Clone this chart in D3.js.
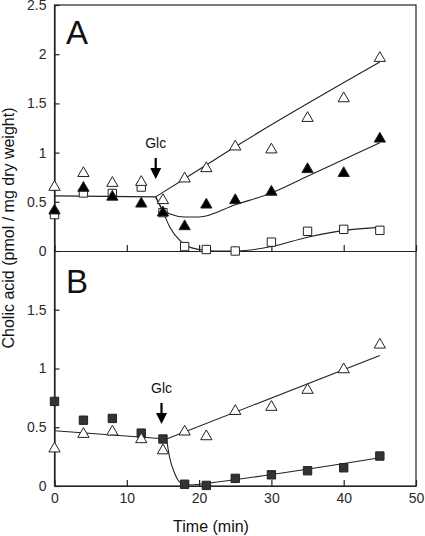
<!DOCTYPE html>
<html><head><meta charset="utf-8">
<script src="https://cdn.jsdelivr.net/npm/d3@7"></script>
<style>body{margin:0;background:#fff}svg{display:block}text{font-family:"Liberation Sans",Arial,sans-serif}</style>
</head><body>
<script>
// ---- data ----
const times = [0, 4, 8, 12, 15, 18, 21, 25, 30, 35, 40, 45];
// Panel A
const aOpenTri   = [0.66, 0.80, 0.70, 0.71, 0.525, 0.745, 0.85, 1.07, 1.04, 1.36, 1.56, 1.97];
const aFilledTri = [0.42, 0.65, 0.56, 0.49, 0.40, 0.26, 0.48, 0.525, 0.61, 0.84, 0.80, 1.15];
const aOpenSq    = [0.37, 0.59, 0.585, 0.65, 0.39, 0.045, 0.015, 0.0, 0.09, 0.20, 0.22, 0.21];
// Panel A fitted curves [time, value]
const aFitPre    = [[0, 0.56], [14, 0.55]];
const aFitOpenTri   = [[14, 0.55], [18, 0.735], [25, 1.06], [45, 1.92]];
const aFitFilledTri = [[14, 0.55], [14.8, 0.44], [16, 0.375], [18, 0.345], [20, 0.345], [25, 0.47], [30, 0.59], [35, 0.76], [40, 0.93], [45, 1.10]];
const aFitOpenSq    = [[14, 0.55], [15, 0.40], [15.9, 0.25], [17.5, 0.095], [18.5, 0.045], [20, 0.015], [22, 0.0], [25, 0.0], [27, 0.01], [30, 0.045], [35, 0.14], [40, 0.21], [45, 0.24]];
// Panel B
const bOpenTri   = [0.326, 0.45, 0.47, 0.405, 0.31, 0.47, 0.43, 0.645, 0.68, 0.825, 1.00, 1.21];
const bFilledSq  = [0.72, 0.56, 0.575, 0.45, 0.40, 0.015, 0.005, 0.065, 0.095, 0.13, 0.155, 0.255];
const bFitPre    = [[0, 0.47], [15.5, 0.40]];
const bFitOpenTri  = [[15.5, 0.40], [45, 1.11]];
const bFitFilledSq = [[15.5, 0.40], [15.9, 0.25], [16.6, 0.11], [17.5, 0.025], [19, 0.008], [20, 0.015], [45, 0.24]];
// ticks
const xTicks  = [0, 10, 20, 30, 40, 50];
const aYTicks = [0, 0.5, 1, 1.5, 2, 2.5];
const bYTicks = [0, 0.5, 1, 1.5];
const glcA = {t: 14, label: "Glc"};
const glcB = {t: 14.8, label: "Glc"};

// ---- layout ----
const W = 425, H = 536;
const svg = d3.select("body").append("svg").attr("width", W).attr("height", H);
const left = 54.5, right = 416, topA = 5, mid = 251, botB = 486;
const x  = d3.scaleLinear().domain([0, 50]).range([left, right]);
const yA = d3.scaleLinear().domain([0, 2.5]).range([mid, topA]);
const yB = d3.scaleLinear().domain([0, 2]).range([botB, mid]);
const ink = "#222";

// frame
svg.append("rect").attr("x", left).attr("y", topA).attr("width", right - left).attr("height", botB - topA)
  .attr("fill", "none").attr("stroke", ink).attr("stroke-width", 1.2);

function styleAxis(g) {
  g.selectAll("path.domain").attr("stroke", ink).attr("stroke-width", 1.2);
  g.selectAll(".tick line").attr("stroke", ink).attr("stroke-width", 1.2);
  g.selectAll(".tick text").attr("font-size", 14).attr("fill", "#2a2a2a")
    .attr("font-family", '"Liberation Sans",Arial,sans-serif');
}

// y axes
svg.append("g").attr("transform", `translate(${left},0)`)
  .call(d3.axisLeft(yA).tickValues(aYTicks).tickFormat(d3.format("")).tickSizeInner(-5).tickSizeOuter(0).tickPadding(8))
  .call(styleAxis);
svg.append("g").attr("transform", `translate(${left},0)`)
  .call(d3.axisLeft(yB).tickValues(bYTicks).tickFormat(d3.format("")).tickSizeInner(-5).tickSizeOuter(0).tickPadding(8))
  .call(styleAxis);
// x axes
svg.append("g").attr("transform", `translate(0,${mid})`)
  .call(d3.axisBottom(x).tickValues(xTicks).tickFormat("").tickSizeInner(-6).tickSizeOuter(0))
  .call(styleAxis);
svg.append("g").attr("transform", `translate(0,${botB})`)
  .call(d3.axisBottom(x).tickValues(xTicks).tickSizeInner(-6).tickSizeOuter(0).tickPadding(7))
  .call(styleAxis);

// fitted curves
function fit(data, y) {
  svg.append("path").datum(data)
    .attr("d", d3.line().x(d => x(d[0])).y(d => y(d[1])).curve(d3.curveMonotoneX))
    .attr("fill", "none").attr("stroke", ink).attr("stroke-width", 1.1);
}
[aFitPre, aFitOpenTri, aFitFilledTri, aFitOpenSq].forEach(d => fit(d, yA));
[bFitPre, bFitOpenTri, bFitFilledSq].forEach(d => fit(d, yB));

// markers
const triSym = d3.symbol().type(d3.symbolTriangle).size(55);
const sqSym  = d3.symbol().type(d3.symbolSquare).size(70);
function pts(vals, y, sym, fill, dy) {
  svg.append("g").selectAll("path").data(times.map((t, i) => [t, vals[i]])).join("path")
    .attr("d", sym)
    .attr("transform", d => `translate(${x(d[0])},${y(d[1]) + (dy || 0)})`)
    .attr("fill", fill).attr("stroke", ink).attr("stroke-width", 1);
}
pts(aOpenSq, yA, sqSym, "#fff");
pts(aFilledTri, yA, triSym, "#000", 1);
pts(aOpenTri, yA, triSym, "#fff", 1);
pts(bFilledSq, yB, sqSym, "#333");
pts(bOpenTri, yB, triSym, "#fff", 1);

// panel letters
svg.append("text").attr("x", 66).attr("y", 44).attr("font-size", 33).attr("fill", "#111").text("A");
svg.append("text").attr("x", 66).attr("y", 293).attr("font-size", 33).attr("fill", "#111").text("B");

// Glc arrows
function glc(g, textY, arrowTop) {
  const cx = x(g.t);
  svg.append("text").attr("x", cx).attr("y", textY).attr("text-anchor", "middle").attr("font-size", 14).attr("fill", "#111").text(g.label);
  svg.append("line").attr("x1", cx).attr("x2", cx).attr("y1", arrowTop).attr("y2", arrowTop + 11)
    .attr("stroke", "#000").attr("stroke-width", 2.2);
  svg.append("path").attr("d", `M${cx - 5.5},${arrowTop + 10}L${cx + 5.5},${arrowTop + 10}L${cx},${arrowTop + 21}Z`).attr("fill", "#000");
}
glc(glcA, 148, 158);
glc(glcB, 393, 403);

// axis titles
svg.append("text").attr("transform", `translate(14,228) rotate(-90)`).attr("text-anchor", "middle")
  .attr("font-size", 16).attr("fill", "#111").text("Cholic acid (pmol / mg dry weight)");
svg.append("text").attr("x", 211).attr("y", 532).attr("text-anchor", "middle")
  .attr("font-size", 16).attr("fill", "#111").text("Time (min)");
</script>
</body></html>
